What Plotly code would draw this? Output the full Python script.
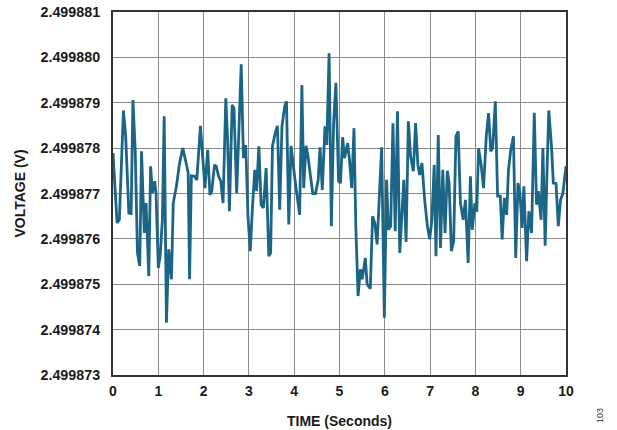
import plotly.graph_objects as go

time_s = [
    0.00, 0.09, 0.14, 0.23, 0.28, 0.35, 0.40, 0.44, 0.49, 0.54, 0.59, 0.63, 0.69, 0.73, 0.79, 0.83, 0.87, 0.92, 0.95,
    1.00, 1.04, 1.09, 1.13, 1.18, 1.23, 1.29, 1.33, 1.40, 1.47, 1.54, 1.63, 1.66, 1.69, 1.73, 1.80, 1.85, 1.93,
    2.03, 2.09, 2.14, 2.18, 2.24, 2.28, 2.33, 2.38, 2.43, 2.49, 2.53, 2.57, 2.63, 2.67, 2.73, 2.78, 2.83, 2.88, 2.93, 2.98,
    3.03, 3.08, 3.13, 3.17, 3.22, 3.27, 3.32, 3.38, 3.44, 3.48, 3.52, 3.58, 3.63, 3.68, 3.73, 3.79, 3.83, 3.88, 3.93,
    4.03, 4.12, 4.17, 4.21, 4.26, 4.30, 4.36, 4.41, 4.47, 4.53, 4.57, 4.62, 4.68, 4.72, 4.77, 4.82, 4.87, 4.92, 4.98,
    5.02, 5.07, 5.11, 5.18, 5.22, 5.27, 5.32, 5.36, 5.41, 5.46, 5.50, 5.57, 5.61, 5.68, 5.73, 5.78, 5.83, 5.93, 5.99,
    6.04, 6.08, 6.13, 6.18, 6.23, 6.28, 6.33, 6.38, 6.42, 6.47, 6.52, 6.57, 6.63, 6.68, 6.73, 6.77, 6.82, 6.88, 6.94, 6.99,
    7.04, 7.09, 7.13, 7.18, 7.23, 7.28, 7.33, 7.38, 7.42, 7.47, 7.52, 7.57, 7.62, 7.67, 7.73, 7.78, 7.84, 7.89, 7.93, 7.99,
    8.03, 8.07, 8.13, 8.18, 8.24, 8.29, 8.34, 8.38, 8.44, 8.49, 8.55, 8.59, 8.64, 8.69, 8.73, 8.78, 8.84, 8.89, 8.94, 8.98,
    9.03, 9.07, 9.13, 9.18, 9.24, 9.30, 9.35, 9.39, 9.45, 9.49, 9.54, 9.58, 9.62, 9.68, 9.72, 9.78, 9.83, 9.88, 9.93, 10.00,
]

voltage_v = [
    2.49987789, 2.49987635, 2.49987642, 2.49987883, 2.49987826, 2.49987657, 2.49987656, 2.49987906, 2.49987796, 2.49987569,
    2.49987540, 2.49987793, 2.49987613, 2.49987679, 2.49987518, 2.49987760, 2.49987701, 2.49987727, 2.49987700,
    2.49987536, 2.49987562, 2.49987642, 2.49987870, 2.49987415, 2.49987577, 2.49987511, 2.49987679, 2.49987716, 2.49987767,
    2.49987800, 2.49987760, 2.49987745, 2.49987511, 2.49987739, 2.49987738, 2.49987730, 2.49987849,
    2.49987712, 2.49987796, 2.49987697, 2.49987705, 2.49987763, 2.49987760, 2.49987738, 2.49987727, 2.49987679, 2.49987910,
    2.49987818, 2.49987661, 2.49987895, 2.49987888, 2.49987701, 2.49987840, 2.49987985, 2.49987778, 2.49987807, 2.49987650,
    2.49987573, 2.49987672, 2.49987752, 2.49987705, 2.49987804, 2.49987675, 2.49987668, 2.49987756, 2.49987562, 2.49987569,
    2.49987804, 2.49987833, 2.49987849, 2.49987664, 2.49987848, 2.49987892, 2.49987903, 2.49987632, 2.49987805,
    2.49987720, 2.49987653, 2.49987939, 2.49987712, 2.49987805, 2.49987785, 2.49987738, 2.49987700, 2.49987700, 2.49987730,
    2.49987802, 2.49987708, 2.49987848, 2.49987807, 2.49988009, 2.49987628, 2.49987855, 2.49987944, 2.49987727,
    2.49987723, 2.49987824, 2.49987778, 2.49987811, 2.49987774, 2.49987712, 2.49987844, 2.49987628, 2.49987474, 2.49987533,
    2.49987511, 2.49987558, 2.49987500, 2.49987490, 2.49987650, 2.49987635, 2.49987588, 2.49987802, 2.49987426,
    2.49987730, 2.49987620, 2.49987628, 2.49987855, 2.49987617, 2.49987881, 2.49987569, 2.49987672, 2.49987730, 2.49987593,
    2.49987859, 2.49987782, 2.49987749, 2.49987855, 2.49987763, 2.49987741, 2.49987767, 2.49987686, 2.49987628, 2.49987599,
    2.49987642, 2.49987763, 2.49987562, 2.49987829, 2.49987580, 2.49987752, 2.49987613, 2.49987750, 2.49987723, 2.49987573,
    2.49987595, 2.49987826, 2.49987837, 2.49987679, 2.49987642, 2.49987686, 2.49987547, 2.49987738, 2.49987620, 2.49987679,
    2.49987660, 2.49987800, 2.49987760, 2.49987712, 2.49987826, 2.49987877, 2.49987793, 2.49987800, 2.49987903, 2.49987694,
    2.49987694, 2.49987599, 2.49987690, 2.49987653, 2.49987752, 2.49987796, 2.49987826, 2.49987558, 2.49987723, 2.49987705,
    2.49987624, 2.49987716, 2.49987551, 2.49987661, 2.49987613, 2.49987878, 2.49987675, 2.49987705, 2.49987642, 2.49987800,
    2.49987585, 2.49987745, 2.49987883, 2.49987804, 2.49987723, 2.49987722, 2.49987628, 2.49987686, 2.49987700, 2.49987760,
]

x_ticks = [0, 1, 2, 3, 4, 5, 6, 7, 8, 9, 10]
y_ticks = [2.499873, 2.499874, 2.499875, 2.499876, 2.499877, 2.499878, 2.499879, 2.499880, 2.499881]
y_tick_labels = ["2.499873", "2.499874", "2.499875", "2.499876", "2.499877",
                 "2.499878", "2.499879", "2.499880", "2.499881"]

FONT = "Liberation Sans, Arial, sans-serif"
W, H = 617, 430
ML, MR, MT, MB = 113, 51, 12, 55

fig = go.Figure()
fig.add_trace(go.Scatter(
    x=time_s, y=voltage_v, mode="lines",
    line=dict(color="#1b6587", width=2.8),
    showlegend=False, hoverinfo="skip",
))

fig.update_layout(
    width=W, height=H,
    margin=dict(l=ML, r=MR, t=MT, b=MB, autoexpand=False),
    paper_bgcolor="white", plot_bgcolor="white",
    font=dict(family=FONT, size=14, color="#1a1a1a"),
    annotations=[dict(
        text="103",
        x=(600 - ML) / (W - ML - MR),
        y=(H - MB - 416) / (H - MT - MB),
        xref="paper", yref="paper",
        xanchor="center", yanchor="middle",
        showarrow=False, textangle=-90,
        font=dict(family=FONT, size=9, color="#333"),
    )],
)

fig.update_xaxes(
    range=[0, 10], tickmode="array", tickvals=x_ticks,
    ticktext=["<b>%d</b>" % v for v in x_ticks],
    showgrid=True, gridcolor="#8a8a8a", gridwidth=1,
    showline=True, mirror=True, linecolor="#333333", linewidth=2,
    zeroline=False, ticks="outside", ticklen=2, tickcolor="white",
    tickfont=dict(family=FONT, size=14, color="#1a1a1a"),
    title=dict(text="<b>TIME (Seconds)</b>", standoff=18,
               font=dict(family=FONT, size=14, color="#1a1a1a")),
)
fig.update_yaxes(
    range=[2.499873, 2.499881], tickmode="array", tickvals=y_ticks,
    ticktext=["<b>%s</b>" % s for s in y_tick_labels],
    showgrid=True, gridcolor="#8a8a8a", gridwidth=1,
    showline=True, mirror=True, linecolor="#333333", linewidth=2,
    zeroline=False, ticks="outside", ticklen=8, tickcolor="white",
    tickfont=dict(family=FONT, size=14.3, color="#1a1a1a"),
    title=dict(text="<b>VOLTAGE (V)</b>", standoff=12,
               font=dict(family=FONT, size=14, color="#1a1a1a")),
)

fig.write_html("out.html", config={"displayModeBar": False},
               post_script="document.body.style.margin='0';")
